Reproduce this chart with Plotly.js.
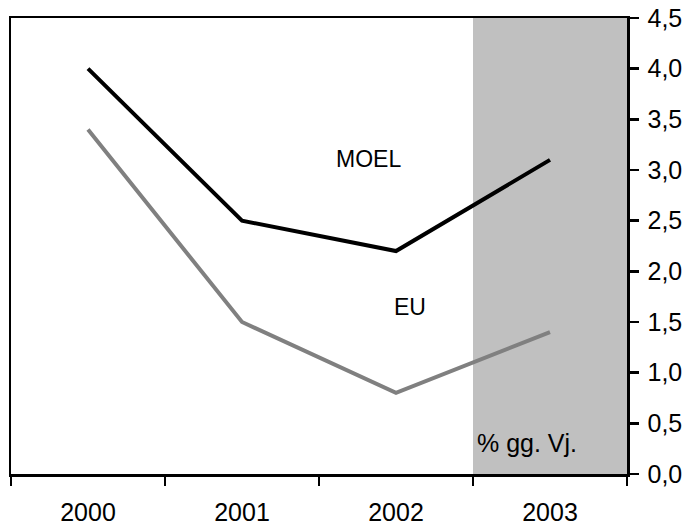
<!DOCTYPE html>
<html>
<head>
<meta charset="utf-8">
<script src="https://cdn.plot.ly/plotly-3.0.1.min.js"></script>
<style>html,body{margin:0;padding:0;background:#fff;}#chart{width:690px;height:530px;}</style>
</head>
<body>
<div id="chart"></div>
<script>
const years = ["2000", "2001", "2002", "2003"];
const moel = [4.0, 2.5, 2.2, 3.1];
const eu = [3.4, 1.5, 0.8, 1.4];
const shadedYear = "2003";
const yTicks = [0, 0.5, 1, 1.5, 2, 2.5, 3, 3.5, 4, 4.5];

const shadeIdx = years.indexOf(shadedYear);

const traces = [
  {x: years, y: moel, type: "scatter", mode: "lines", name: "MOEL",
   line: {color: "#000000", width: 4}},
  {x: years, y: eu, type: "scatter", mode: "lines", name: "EU",
   line: {color: "#808080", width: 4}}
];

const layout = {
  width: 690, height: 530,
  margin: {l: 11, r: 63, t: 18, b: 56},
  showlegend: false,
  separators: ",.",
  paper_bgcolor: "#ffffff",
  plot_bgcolor: "#ffffff",
  font: {family: "Liberation Sans", size: 25, color: "#000"},
  xaxis: {
    type: "category", range: [-0.5, years.length - 0.5],
    showgrid: false, zeroline: false,
    showline: true, linecolor: "#000", linewidth: 2.5, mirror: true,
    ticks: "outside", tickson: "boundaries", ticklen: 9, tickwidth: 2.5, tickcolor: "#000",
    ticklabelstandoff: 14,
    tickfont: {family: "Liberation Sans", size: 25, color: "#000"}
  },
  yaxis: {
    side: "right", range: [0, 4.5], tickvals: yTicks, tickformat: ".1f",
    showgrid: false, zeroline: false,
    showline: true, linecolor: "#000", linewidth: 2.5, mirror: true,
    ticks: "outside", ticklen: 9, tickwidth: 2.5, tickcolor: "#000",
    ticklabelstandoff: 4,
    tickfont: {family: "Liberation Sans", size: 25, color: "#000"}
  },
  shapes: [{
    type: "rect", layer: "below", xref: "x", yref: "paper",
    x0: shadeIdx - 0.5, x1: shadeIdx + 0.5, y0: 0, y1: 1,
    fillcolor: "#c0c0c0", line: {width: 0}
  }],
  annotations: [
    {text: "MOEL", x: 1.82, y: 3.11, xref: "x", yref: "y", showarrow: false,
     font: {family: "Liberation Sans", size: 23, color: "#000"}},
    {text: "EU", x: 2.09, y: 1.65, xref: "x", yref: "y", showarrow: false,
     font: {family: "Liberation Sans", size: 23, color: "#000"}},
    {text: "% gg. Vj.", x: 2.85, y: 0.31, xref: "x", yref: "y", showarrow: false,
     font: {family: "Liberation Sans", size: 25, color: "#000"}}
  ]
};

Plotly.newPlot("chart", traces, layout, {displayModeBar: false, staticPlot: true});
</script>
</body>
</html>
